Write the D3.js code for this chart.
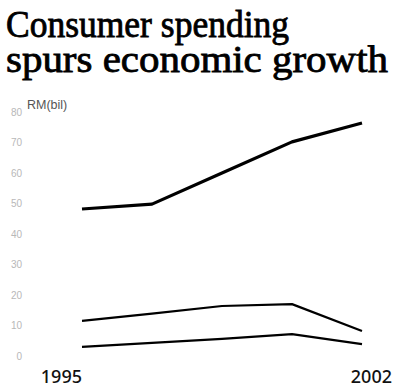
<!DOCTYPE html>
<html>
<head>
<meta charset="utf-8">
<script src="https://cdn.jsdelivr.net/npm/d3@7"></script>
<style>
	body { margin: 0; background: #fff; }
	svg { display: block; }
</style>
</head>
<body>
<div id="chart"></div>
<script>
// values (RM billion)
var periods = [1995, 1996.75, 1998.5, 2000.25, 2002];
var seriesTop = [48.2, 49.8, 60.0, 70.2, 76.4];
var seriesMid = [11.5, 13.9, 16.4, 17.0, 8.2];
var seriesLow = [3.0, 4.3, 5.6, 7.2, 3.9];
var yTicks = [0, 10, 20, 30, 40, 50, 60, 70, 80];
var xTicks = [1995, 2002];
var titleLines = ["Consumer spending", "spurs economic growth"];

var width = 394,
	height = 391;

var svg = d3.select("#chart")
	.append("svg")
	.attr("width", width)
	.attr("height", height);

svg.append("rect")
	.attr("width", width)
	.attr("height", height)
	.attr("fill", "#fff");

var x = d3.scaleLinear()
	.domain([1995, 2002])
	.range([82, 362]);

var y = d3.scaleLinear()
	.domain([0, 80])
	.range([356, 112]);

// title
svg.selectAll("text.title")
	.data(titleLines)
	.enter()
	.append("text")
	.attr("class", "title")
	.attr("x", 6)
	.attr("y", function(d, i) { return 37 + i * 35; })
	.attr("textLength", function(d, i) { return i === 0 ? 283 : 382; })
	.attr("lengthAdjust", "spacingAndGlyphs")
	.style("font-family", "'Liberation Serif', serif")
	.style("font-size", "37px")
	.attr("fill", "#000")
	.attr("stroke", "#000")
	.attr("stroke-width", 0.8)
	.text(function(d) { return d; });

// y tick labels, very faint
svg.selectAll("text.ytick")
	.data(yTicks)
	.enter()
	.append("text")
	.attr("class", "ytick")
	.attr("x", 22)
	.attr("y", function(d) { return y(d); })
	.attr("dy", "0.35em")
	.attr("text-anchor", "end")
	.style("font-family", "'Liberation Sans', sans-serif")
	.style("font-size", "10px")
	.attr("fill", "#b8b8b8")
	.text(function(d) { return d; });

svg.append("text")
	.attr("x", 27)
	.attr("y", 109)
	.style("font-family", "'Liberation Sans', sans-serif")
	.style("font-size", "12.5px")
	.attr("fill", "#555")
	.text("RM(bil)");

// x labels
svg.selectAll("text.xtick")
	.data(xTicks)
	.enter()
	.append("text")
	.attr("class", "xtick")
	.attr("x", function(d, i) { return i === 0 ? x(d) : x(d) + 30; })
	.attr("y", 383)
	.attr("text-anchor", "end")
	.style("font-family", "'Noto Sans', sans-serif")
	.style("font-size", "18px")
	.style("font-weight", "500")
	.attr("fill", "#111")
	.text(function(d) { return d; });

var line = d3.line()
	.x(function(d, i) { return x(periods[i]); })
	.y(function(d) { return y(d); });

var series = [
	{values: seriesTop, w: 3.2},
	{values: seriesMid, w: 2.2},
	{values: seriesLow, w: 2.2}
];

svg.selectAll("path.series")
	.data(series)
	.enter()
	.append("path")
	.attr("class", "series")
	.attr("d", function(d) { return line(d.values); })
	.attr("fill", "none")
	.attr("stroke", "#000")
	.attr("stroke-width", function(d) { return d.w; })
	.attr("stroke-linejoin", "round");
</script>
</body>
</html>
